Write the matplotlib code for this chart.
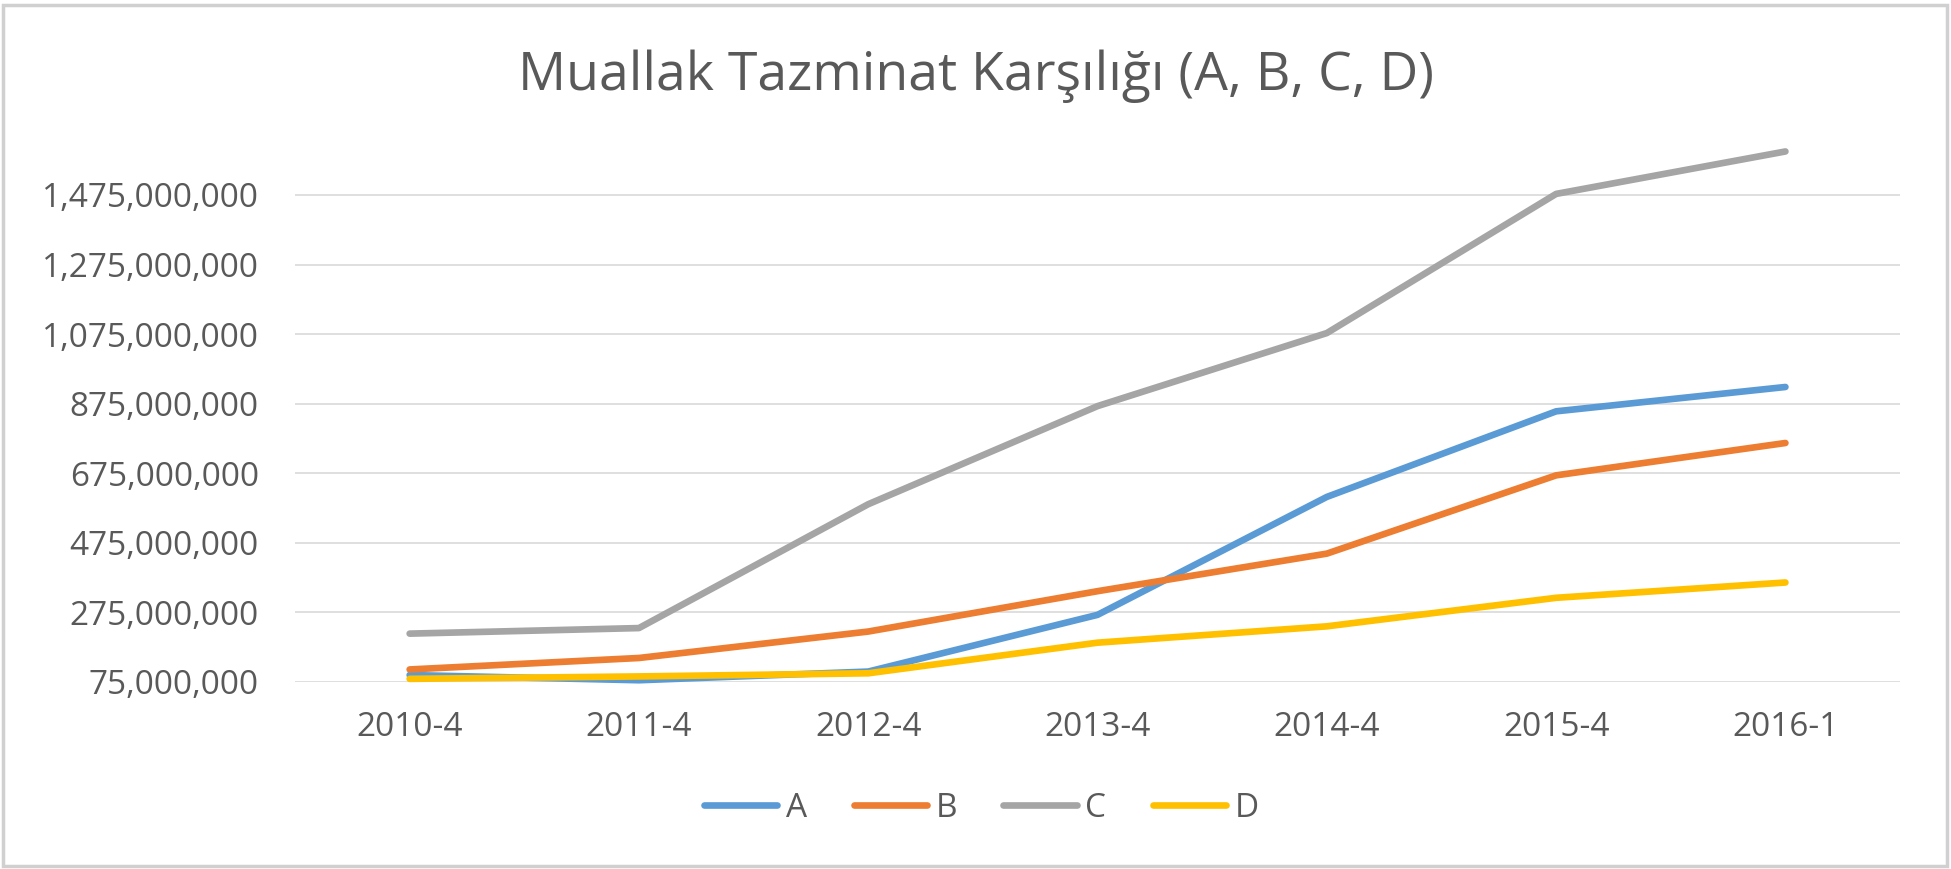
import matplotlib
matplotlib.use('Agg')
import matplotlib.pyplot as plt
from matplotlib.patches import Rectangle
from matplotlib.ticker import FuncFormatter

# data (values in TL)
PERIODS = ['2010-4', '2011-4', '2012-4', '2013-4', '2014-4', '2015-4', '2016-1']
A = [95e6, 80e6, 105e6, 268e6, 607e6, 853e6, 923e6]
B = [111e6, 144e6, 220e6, 336e6, 444e6, 669e6, 762e6]
C = [214e6, 230e6, 586e6, 868e6, 1078e6, 1478e6, 1600e6]
D = [84e6, 91e6, 100e6, 188e6, 235e6, 317e6, 361e6]
Y_TICKS = [75e6, 275e6, 475e6, 675e6, 875e6, 1075e6, 1275e6, 1475e6]

TEXT = '#595959'
plt.rcParams['font.family'] = ['Open Sans', 'DejaVu Sans']

fig = plt.figure(figsize=(19.51, 8.69), dpi=100)
ax = fig.add_axes([0.1512, 0.2152, 0.8227, 0.6105])

x = list(range(len(PERIODS)))
series = [('A', A, '#5B9BD5'), ('B', B, '#ED7D31'),
          ('C', C, '#A5A5A5'), ('D', D, '#FFC000')]
for name, vals, col in series:
    ax.plot(x, vals, color=col, lw=4.8, label=name,
            solid_capstyle='round', solid_joinstyle='round',
            clip_on=False, zorder=3)

ax.set_xlim(-0.5, len(PERIODS) - 0.5)
ax.set_ylim(75e6, 1600e6)
ax.set_xticks(x)
ax.set_xticklabels(PERIODS)
ax.set_yticks(Y_TICKS)
ax.yaxis.set_major_formatter(FuncFormatter(lambda v, p: '{:,.0f}'.format(v)))
ax.tick_params(axis='both', length=0, labelsize=24, labelcolor=TEXT)
ax.tick_params(axis='y', pad=26)
ax.tick_params(axis='x', pad=21)
ax.grid(axis='y', color='#D9D9D9', lw=1.2, zorder=0)
for s in ax.spines.values():
    s.set_visible(False)

fig.text(0.5, 0.912, 'Muallak Tazminat Karşılığı (A, B, C, D)',
         ha='center', va='center', fontsize=38.5, color=TEXT)

leg = fig.legend(loc='center', bbox_to_anchor=(0.503, 0.07), ncol=4,
                 frameon=False, fontsize=24, handlelength=2.2,
                 handletextpad=0.25, columnspacing=1.4)
for t in leg.get_texts():
    t.set_color(TEXT)

fig.patches.append(Rectangle((3, 3), 1944, 861, transform=None,
                             fill=False, edgecolor='#D0D0D0', lw=2.5))

fig.savefig('out.png', dpi=100, facecolor='white')
